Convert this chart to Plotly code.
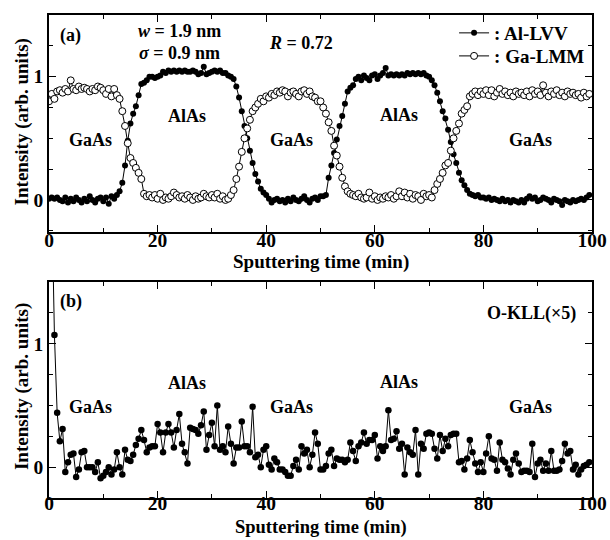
import numpy as np
import plotly.graph_objects as go

# ---- depth-profile data (sputtering time in minutes, 0.5 min sampling) ----
t_ab = np.arange(0, 100, 0.5)

al_lvv = [
    0.01, 0.02, 0.01, 0.02, 0.00, -0.01, 0.02, -0.02, 0.01, -0.01,
    0.02, 0.00, -0.02, 0.01, -0.01, 0.03, 0.00, -0.02, 0.01, 0.02,
    -0.01, 0.02, -0.03, 0.03, 0.01, 0.04, 0.07, 0.14, 0.28, 0.48,
    0.62, 0.70, 0.76, 0.85, 0.94, 0.95, 0.97, 1.00, 1.00, 0.99,
    1.00, 1.01, 1.04, 1.03, 1.05, 1.04, 1.05, 1.04, 1.05, 1.04,
    1.05, 1.04, 1.04, 1.05, 1.04, 1.02, 1.03, 1.08, 1.02, 1.03,
    1.04, 1.05, 1.04, 1.05, 1.03, 1.03, 1.01, 1.00, 0.98, 0.92,
    0.83, 0.72, 0.60, 0.50, 0.40, 0.30, 0.21, 0.15, 0.09, 0.06,
    0.04, 0.01, -0.02, 0.00, 0.01, -0.01, 0.00, -0.02, 0.01, -0.01,
    0.02, 0.00, -0.01, 0.01, 0.03, 0.00, -0.02, 0.01, 0.02, 0.00,
    0.03, 0.03, 0.04, 0.18, 0.28, 0.38, 0.49, 0.60, 0.68, 0.78,
    0.88, 0.91, 0.93, 0.98, 1.00, 0.97, 1.01, 0.99, 0.97, 1.01,
    1.02, 0.98, 1.01, 1.03, 1.07, 1.01, 1.02, 1.01, 1.02, 1.01,
    1.02, 1.01, 1.03, 1.02, 1.03, 1.02, 1.03, 1.02, 1.03, 1.01,
    1.00, 0.97, 0.93, 0.87, 0.80, 0.72, 0.66, 0.57, 0.47, 0.37,
    0.30, 0.22, 0.16, 0.12, 0.08, 0.05, 0.04, 0.03, 0.04, 0.02,
    0.02, 0.01, 0.02, 0.00, 0.01, 0.00, -0.01, 0.01, -0.01, 0.00,
    -0.02, 0.00, -0.01, -0.02, 0.00, -0.02, 0.01, 0.03, 0.01, 0.02,
    -0.01, 0.00, 0.02, 0.01, 0.00, -0.02, 0.01, 0.00, -0.01, -0.04,
    0.00, -0.01, -0.02, 0.00, -0.01, 0.00, 0.01, 0.00, 0.02, 0.04,
]

ga_lmm = [
    0.80, 0.86, 0.82, 0.88, 0.89, 0.87, 0.90, 0.88, 0.97, 0.90,
    0.89, 0.92, 0.90, 0.91, 0.90, 0.88, 0.90, 0.89, 0.92, 0.91,
    0.89, 0.86, 0.90, 0.84, 0.90, 0.85, 0.82, 0.72, 0.60, 0.46,
    0.34, 0.30, 0.26, 0.22, 0.17, 0.05, 0.03, 0.04, 0.02, 0.04,
    0.01, 0.05, 0.00, 0.02, 0.01, 0.03, 0.06, 0.04, 0.02, 0.03,
    0.01, 0.04, 0.02, 0.00, 0.03, 0.01, 0.02, 0.05, 0.03, 0.02,
    0.04, 0.02, 0.05, 0.01, 0.03, 0.00, 0.01, 0.04, 0.08, 0.17,
    0.27, 0.39, 0.50, 0.58, 0.65, 0.72, 0.75, 0.78, 0.82, 0.80,
    0.84, 0.83, 0.86, 0.85, 0.88, 0.87, 0.89, 0.88, 0.84, 0.87,
    0.88, 0.86, 0.84, 0.88, 0.89, 0.86, 0.88, 0.84, 0.83, 0.80,
    0.80, 0.75, 0.70, 0.63, 0.56, 0.44, 0.36, 0.27, 0.18, 0.11,
    0.07, 0.05, 0.04, 0.03, 0.05, 0.02, 0.01, 0.02, 0.06, 0.01,
    0.03, 0.00, 0.02, 0.01, 0.03, 0.02, 0.04, 0.01, 0.03, 0.07,
    0.03, 0.06, 0.02, 0.05, 0.01, 0.04, 0.03, 0.00, 0.05, 0.03,
    0.04, 0.02, 0.08, 0.13, 0.17, 0.22, 0.28, 0.30, 0.40, 0.50,
    0.56, 0.62, 0.70, 0.73, 0.76, 0.84, 0.86, 0.88, 0.85, 0.88,
    0.86, 0.89, 0.85, 0.89, 0.84, 0.87, 0.90, 0.86, 0.88, 0.85,
    0.87, 0.84, 0.88, 0.86, 0.87, 0.85, 0.88, 0.84, 0.89, 0.86,
    0.88, 0.85, 0.93, 0.87, 0.84, 0.88, 0.86, 0.89, 0.85, 0.87,
    0.84, 0.88, 0.86, 0.87, 0.85, 0.86, 0.83, 0.87, 0.84, 0.86,
]

t_o = np.arange(0.5, 100, 0.5)

o_kll_x5 = [
    2.20, 1.07, 0.44, 0.21, 0.31, -0.04, 0.04, 0.10, 0.11, -0.08,
    -0.02, 0.12, 0.13, 0.00, 0.00, 0.00, -0.04, 0.04, -0.09, -0.07,
    -0.04, 0.00, -0.06, -0.02, 0.12, 0.00, -0.06, 0.14, 0.06, 0.05,
    0.10, 0.18, 0.23, 0.30, 0.22, 0.12, 0.16, 0.17, 0.17, 0.35,
    0.28, 0.12, 0.28, 0.35, 0.28, 0.16, 0.30, 0.43, 0.19, 0.12,
    0.03, 0.32, 0.31, 0.30, 0.27, 0.34, 0.45, 0.14, 0.26, 0.36,
    0.17, 0.50, 0.14, 0.17, 0.12, 0.33, 0.19, 0.03, 0.16, 0.16,
    0.37, 0.17, 0.17, 0.12, 0.49, 0.08, 0.10, 0.00, 0.14, 0.17,
    0.02, -0.02, 0.07, 0.04, -0.02, -0.02, -0.04, -0.07, -0.07, 0.01,
    0.06, -0.02, 0.17, 0.11, 0.14, 0.00, 0.10,
    0.28, 0.19, -0.02, -0.02, 0.01, 0.11, 0.14, 0.01, 0.07, 0.06,
    0.06, 0.04, 0.06, 0.20, 0.13, 0.05, 0.17, 0.20, 0.28, 0.19,
    0.22, 0.22, 0.26, 0.07, 0.17, 0.13, 0.17, 0.46, 0.22, 0.23,
    0.29, 0.15, 0.19, -0.06, 0.16, 0.12, 0.10, 0.30, -0.06, 0.19,
    0.15, 0.27, 0.28, 0.27, 0.15, 0.07, 0.26, 0.13, 0.23, 0.17,
    0.26, 0.27, 0.27, 0.04, 0.05, -0.02, 0.07, 0.22, 0.12, 0.03,
    -0.04, 0.04, -0.04, 0.11, 0.25, 0.07, 0.06, -0.03, 0.20, 0.06,
    0.04, -0.01, -0.06, 0.06, 0.11, 0.03, -0.04, -0.03, -0.03, -0.04,
    0.19, -0.08, 0.03, 0.06, -0.03, 0.03, -0.03, 0.13, -0.03, -0.03,
    -0.02, 0.05, 0.19, 0.11, 0.13, -0.02, 0.02, -0.06, -0.02, 0.01,
    0.02, 0.04,
]

# layer labels: (time, intensity, text)
layer_labels_a = [(7.7, 0.49, "GaAs"), (25.4, 0.68, "AlAs"), (44.7, 0.49, "GaAs"),
                  (64.5, 0.69, "AlAs"), (88.6, 0.49, "GaAs")]
layer_labels_b = [(7.7, 0.49, "GaAs"), (25.5, 0.68, "AlAs"), (44.7, 0.49, "GaAs"),
                  (64.5, 0.69, "AlAs"), (88.6, 0.49, "GaAs")]

X_TITLE = "Sputtering time (min)"
Y_TITLE = "Intensity (arb. units)"

SERIF = "Liberation Serif"
BLACK = "black"

fig = go.Figure()

fig.add_trace(go.Scatter(
    x=t_ab, y=al_lvv, mode="lines+markers", name=": Al-LVV",
    line=dict(color=BLACK, width=1),
    marker=dict(symbol="circle", size=6, color=BLACK),
    xaxis="x", yaxis="y", legend="legend",
))
fig.add_trace(go.Scatter(
    x=t_ab, y=ga_lmm, mode="lines+markers", name=": Ga-LMM",
    line=dict(color=BLACK, width=1),
    marker=dict(symbol="circle", size=7, color="white", line=dict(color=BLACK, width=1)),
    xaxis="x", yaxis="y", legend="legend2",
))
fig.add_trace(go.Scatter(
    x=t_o, y=o_kll_x5, mode="lines+markers", name="O-KLL",
    line=dict(color=BLACK, width=1),
    marker=dict(symbol="circle", size=6.5, color=BLACK),
    xaxis="x2", yaxis="y2", showlegend=False,
))

tick_font = dict(family=SERIF, size=19.5, color=BLACK, weight="bold")
title_font = dict(family=SERIF, size=19, color=BLACK, weight="bold")

common_axis = dict(
    showline=True, linecolor=BLACK, linewidth=1.5, mirror="ticks",
    ticks="inside", ticklen=7, tickwidth=1.3, tickcolor=BLACK,
    showgrid=False, zeroline=False, tickfont=tick_font, automargin=False,
)

def xaxis_cfg(anchor, label_shift):
    return dict(common_axis, anchor=anchor, range=[0, 100], tick0=0, dtick=20,
                ticklabelstandoff=label_shift,
                minor=dict(ticks="inside", ticklen=4, tickwidth=1.3, tickcolor=BLACK, dtick=10))

def yaxis_cfg(anchor, domain, rng):
    return dict(common_axis, anchor=anchor, domain=domain, range=rng,
                tickvals=[0, 1], ticktext=["0", "1"],
                minor=dict(ticks="inside", ticklen=4, tickwidth=1.3, tickcolor=BLACK,
                           tickvals=[-0.25, 0.25, 0.5, 0.75, 1.25]))

legend_common = dict(x=0.746, xanchor="left", yanchor="middle", bgcolor="rgba(0,0,0,0)",
                     font=dict(family=SERIF, size=19, color=BLACK, weight="bold"),
                     itemwidth=30)

fig.update_layout(
    width=610, height=540,
    margin=dict(l=49, r=18, t=15, b=42, autoexpand=False),
    paper_bgcolor="white", plot_bgcolor="white",
    xaxis=xaxis_cfg("y", -10),
    yaxis=yaxis_cfg("x", [0.5507, 1.0], [-0.26, 1.5]),
    xaxis2=xaxis_cfg("y2", -13),
    yaxis2=yaxis_cfg("x2", [0.0, 0.4472], [-0.25, 1.5]),
    showlegend=True,
    legend=dict(legend_common, y=0.9627),
    legend2=dict(legend_common, y=0.915),
)

ann_font = dict(family=SERIF, size=18, color=BLACK, weight="bold")
annotations = []
for xt, yv, txt in layer_labels_a:
    annotations.append(dict(x=xt, y=yv, xref="x", yref="y", text=txt, showarrow=False, font=ann_font))
for xt, yv, txt in layer_labels_b:
    annotations.append(dict(x=xt, y=yv, xref="x2", yref="y2", text=txt, showarrow=False, font=ann_font))

annotations += [
    dict(x=4.05, y=1.33, xref="x", yref="y", text="(a)", showarrow=False, font=ann_font),
    dict(x=16.0, y=1.37, xref="x", yref="y", xanchor="left",
         text="<i>w</i> = 1.9 nm", showarrow=False, font=ann_font),
    dict(x=16.2, y=1.19, xref="x", yref="y", xanchor="left",
         text="<i>σ</i> = 0.9 nm", showarrow=False, font=ann_font),
    dict(x=40.1, y=1.27, xref="x", yref="y", xanchor="left",
         text="<i>R</i> = 0.72", showarrow=False, font=ann_font),
    dict(x=4.05, y=1.34, xref="x2", yref="y2", text="(b)", showarrow=False, font=ann_font),
    dict(x=97.4, y=1.245, xref="x2", yref="y2", xanchor="right",
         text="O-KLL(×5)", showarrow=False, font=ann_font),
]

# axis titles, placed just outside each panel
bottom_title_font = dict(title_font, size=18.5)
annotations += [
    dict(x=0.5, y=0.4886, xref="paper", yref="paper", yanchor="middle", borderpad=0,
         text=X_TITLE, showarrow=False, font=title_font),
    dict(x=0.5, y=-0.0839, xref="paper", yref="paper", yanchor="bottom", borderpad=0,
         text=X_TITLE, showarrow=False, font=bottom_title_font),
    dict(x=-0.0497, y=0.7777, xref="paper", yref="paper", xanchor="center", yanchor="middle",
         borderpad=0, text=Y_TITLE, textangle=-90, showarrow=False, font=title_font),
    dict(x=-0.0497, y=0.2298, xref="paper", yref="paper", xanchor="center", yanchor="middle",
         borderpad=0, text=Y_TITLE, textangle=-90, showarrow=False, font=title_font),
]
fig.update_layout(annotations=annotations)

fig.write_html("out.html")
